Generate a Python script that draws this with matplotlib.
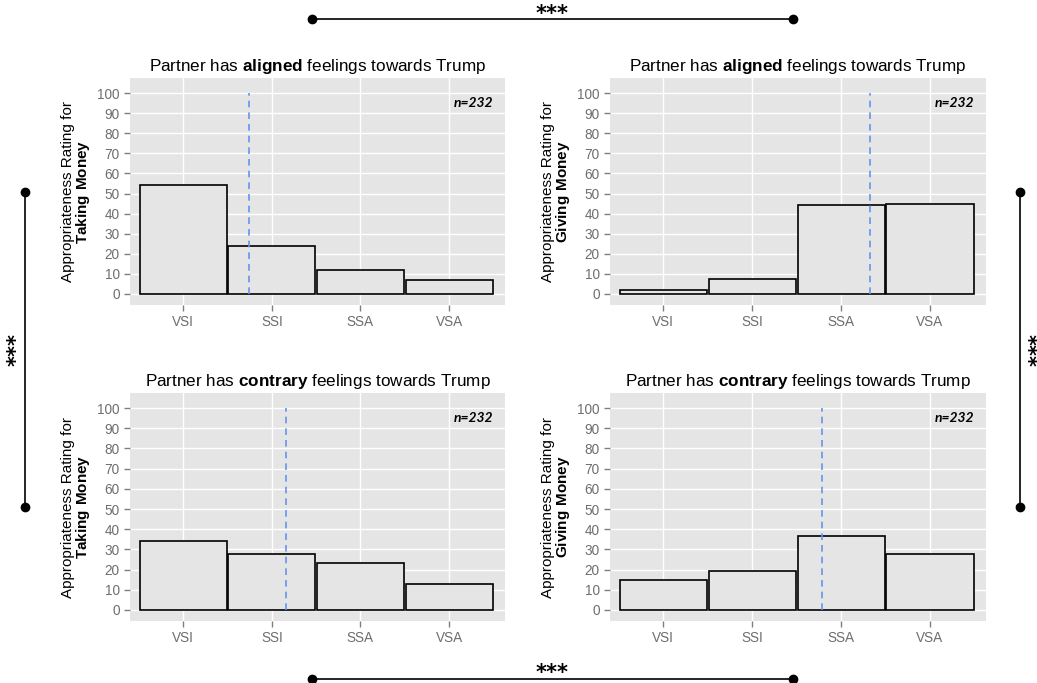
import numpy as np
import matplotlib.pyplot as plt
from matplotlib.lines import Line2D

plt.rcParams['font.family'] = ['Liberation Sans', 'DejaVu Sans']
plt.rcParams['mathtext.fontset'] = 'custom'
plt.rcParams['mathtext.rm'] = 'Liberation Sans'
plt.rcParams['mathtext.bf'] = 'Liberation Sans:bold'

# Data
categories = ['VSI', 'SSI', 'SSA', 'VSA']
taking_aligned = [54.3, 24.1, 12.1, 7.1]
giving_aligned = [1.8, 7.3, 44.2, 44.7]
taking_contrary = [34.3, 27.7, 23.2, 12.6]
giving_contrary = [14.7, 19.1, 36.5, 27.7]
# mean position (0 = VSI ... 3 = VSA)
mean_pos = [0.74, 2.32, 1.16, 1.78]
n_label = 'n=232'

panels = [
    (taking_aligned, 'aligned', 'Taking', mean_pos[0]),
    (giving_aligned, 'aligned', 'Giving', mean_pos[1]),
    (taking_contrary, 'contrary', 'Taking', mean_pos[2]),
    (giving_contrary, 'contrary', 'Giving', mean_pos[3]),
]

W, H = 1037, 683
fig = plt.figure(figsize=(W / 100, H / 100), dpi=100)

# axes boxes in pixels: left, top, right, bottom
boxes = [(130, 78, 505, 305), (610, 78, 986, 305),
         (130, 393, 505, 621), (610, 393, 986, 621)]

x = np.arange(len(categories))
for (vals, feel, kind, mpos), (l, t, r, b) in zip(panels, boxes):
    ax = fig.add_axes([l / W, (H - b) / H, (r - l) / W, (b - t) / H])
    ax.set_facecolor('#E5E5E5')
    ax.bar(x, vals, width=0.98, color='#E5E5E5', edgecolor='black',
           linewidth=1.2, zorder=3)
    ax.plot([mpos, mpos], [0, 100], color='#6495ED', linestyle=(0, (4, 3)),
            linewidth=1.2, zorder=4)
    ax.text(3.5, 95, n_label, ha='right', va='center', fontsize=10,
            fontweight='bold', fontstyle='italic', family='Lato',
            zorder=5)
    ax.set_xlim(-0.6, 3.63)
    ax.set_ylim(-5.5, 107.5)
    ax.set_xticks(x)
    ax.set_xticklabels(categories)
    ax.set_yticks(np.arange(0, 101, 10))
    ax.grid(True, color='white', linewidth=1.0, zorder=0)
    ax.set_axisbelow(True)
    for s in ax.spines.values():
        s.set_visible(False)
    ax.tick_params(colors='#7F7F7F', labelcolor='#6E6E6E', labelsize=9.8,
                   length=4, width=1)
    ax.set_title(r'Partner has $\bf{' + feel + r'}$ feelings towards Trump',
                 fontsize=12.3, pad=5)
    ax.set_ylabel('Appropriateness Rating for\n$\\bf{' + kind + r'\ Money}$',
                  fontsize=11, labelpad=4, linespacing=0.9)

# significance brackets
ov = fig.add_axes([0, 0, 1, 1])
ov.set_xlim(0, W)
ov.set_ylim(H, 0)
ov.axis('off')
ov.patch.set_alpha(0)

def bracket(x0, y0, x1, y1, tx, ty, rot):
    ov.add_line(Line2D([x0, x1], [y0, y1], color='black', linewidth=1.2,
                       marker='o', markersize=6, markevery=[0, 1]))
    ov.text(tx, ty, '***', ha='center', va='center', fontsize=15,
            fontweight='bold', rotation=rot, family='DejaVu Sans')

bracket(312, 19, 793, 19, 552, 14, 0)
bracket(312, 679, 793, 679, 552, 673, 0)
bracket(25, 192, 25, 507, 17, 350, 90)
bracket(1020, 192, 1020, 507, 1027, 350, -90)

fig.savefig('out.png', dpi=100)
